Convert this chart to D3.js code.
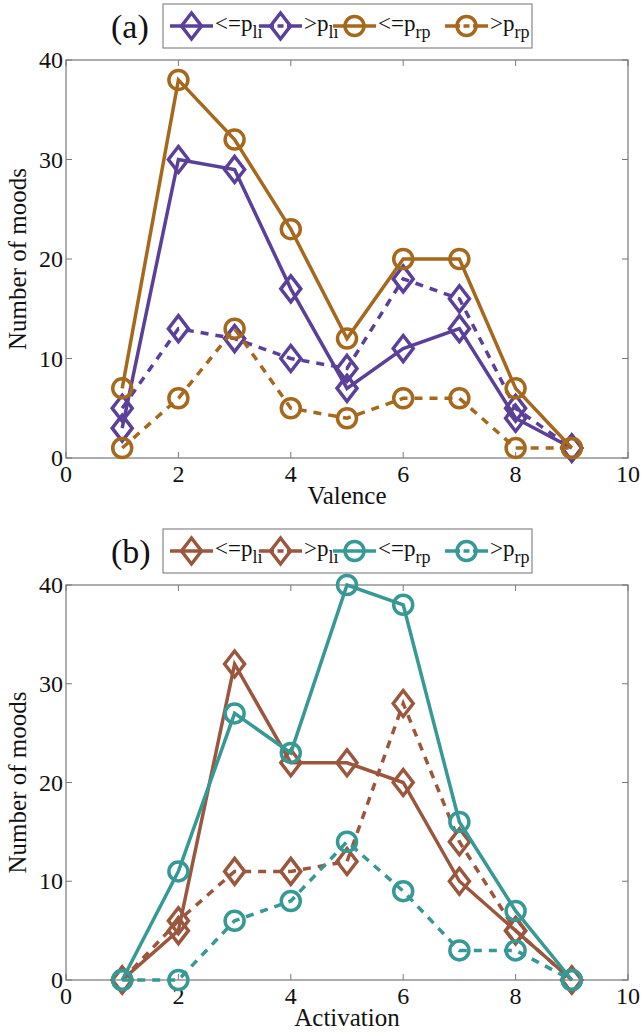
<!DOCTYPE html>
<html><head><meta charset="utf-8">
<script src="https://cdn.jsdelivr.net/npm/d3@7"></script>
<style>body{margin:0;background:#fff}svg{display:block}</style>
</head><body>
<svg id="c" width="644" height="1036"></svg>
<script>
const xTicks = [0,2,4,6,8,10];
const yTicks = [0,10,20,30,40];
const xs = [1,2,3,4,5,6,7,8,9];

// Panel (a): Valence
const valLeLi = [3,30,29,17,7,11,13,4,1];
const valGtLi = [5,13,12,10,9,18,16,5,1];
const valLeRp = [7,38,32,23,12,20,20,7,1];
const valGtRp = [1,6,13,5,4,6,6,1,1];

// Panel (b): Activation
const actLeLi = [0,5,32,22,22,20,10,5,0];
const actGtLi = [0,6,11,11,12,28,14,5,0];
const actLeRp = [0,11,27,23,40,38,16,7,0];
const actGtRp = [0,0,6,8,14,9,3,3,0];

const seriesLabels = [["<=p","li"],[">p","li"],["<=p","rp"],[">p","rp"]];

const svg = d3.select("#c");
const FF = "Liberation Serif";
const SW = 3.5;

function txt(g,size){
  return g.append("text").style("font-family",FF).style("font-size",size+"px").attr("fill","#111");
}

function panel(cfg){
  const x = d3.scaleLinear().domain([0,10]).range([66,628]);
  const y = d3.scaleLinear().domain([0,40]).range([cfg.bottom,cfg.top]);
  const g = svg.append("g");
  g.append("rect").attr("x",x(0)).attr("y",y(40)).attr("width",x(10)-x(0)).attr("height",y(0)-y(40))
    .attr("fill","none").attr("stroke","#777").attr("stroke-width",1.2);
  const tl = 6;
  xTicks.forEach(t=>{
    g.append("line").attr("x1",x(t)).attr("x2",x(t)).attr("y1",y(0)).attr("y2",y(0)-tl).attr("stroke","#777");
    g.append("line").attr("x1",x(t)).attr("x2",x(t)).attr("y1",y(40)).attr("y2",y(40)+tl).attr("stroke","#777");
    txt(g,24).attr("x",x(t)).attr("y",y(0)+24).attr("text-anchor","middle").text(t);
  });
  yTicks.forEach(t=>{
    g.append("line").attr("x1",x(0)).attr("x2",x(0)+tl).attr("y1",y(t)).attr("y2",y(t)).attr("stroke","#777");
    g.append("line").attr("x1",x(10)).attr("x2",x(10)-tl).attr("y1",y(t)).attr("y2",y(t)).attr("stroke","#777");
    txt(g,24).attr("x",x(0)-3).attr("y",y(t)+8).attr("text-anchor","end").text(t);
  });
  txt(g,25).attr("x",x(5)).attr("y",y(0)+46).attr("text-anchor","middle").text(cfg.xlabel);
  txt(g,25).attr("transform",`translate(26,${(y(0)+y(40))/2}) rotate(-90)`).attr("text-anchor","middle")
    .text("Number of moods");

  const line = d3.line().x((d,i)=>x(xs[i])).y(d=>y(d));
  const series = [
    {v:cfg.s[0], c:cfg.c1, dash:null, m:"d"},
    {v:cfg.s[1], c:cfg.c1, dash:"8,7", m:"d"},
    {v:cfg.s[2], c:cfg.c2, dash:null, m:"o"},
    {v:cfg.s[3], c:cfg.c2, dash:"8,7", m:"o"},
  ];
  series.forEach(s=>{
    g.append("path").attr("d",line(s.v)).attr("fill","none").attr("stroke",s.c).attr("stroke-width",SW)
      .attr("stroke-dasharray",s.dash);
    s.v.forEach((d,i)=>marker(g,s.m,x(xs[i]),y(d),s.c));
  });

  const ly = cfg.legTop;
  txt(g,34).attr("x",111).attr("y",ly+34).text(cfg.tag);
  g.append("rect").attr("x",163).attr("y",ly).attr("width",369).attr("height",44)
    .attr("fill","#fff").attr("stroke","#888").attr("stroke-width",1.2);
  const lx = [170,259,333,445];
  series.forEach((s,i)=>{
    const cy = ly+22;
    g.append("line").attr("x1",lx[i]).attr("x2",lx[i]+43).attr("y1",cy).attr("y2",cy)
      .attr("stroke",s.c).attr("stroke-width",SW);
    if(s.dash){
      g.append("line").attr("x1",lx[i]+15).attr("x2",lx[i]+28).attr("y1",cy).attr("y2",cy)
        .attr("stroke","#fff").attr("stroke-width",4.5);
      g.append("line").attr("x1",lx[i]+18.5).attr("x2",lx[i]+24.5).attr("y1",cy).attr("y2",cy)
        .attr("stroke",s.c).attr("stroke-width",SW);
    }
    marker(g,s.m,lx[i]+21.5,cy,s.c);
    const t = txt(g,23).attr("x",lx[i]+45).attr("y",cy+5);
    t.append("tspan").text(seriesLabels[i][0]);
    t.append("tspan").attr("dy",7).style("font-size","18px").text(seriesLabels[i][1]);
  });
}

function marker(g,type,cx,cy,c){
  if(type==="o"){
    g.append("circle").attr("cx",cx).attr("cy",cy).attr("r",9.5).attr("fill","none").attr("stroke",c).attr("stroke-width",SW);
  } else {
    const w=10,h=13;
    g.append("path").attr("d",`M${cx},${cy-h}L${cx+w},${cy}L${cx},${cy+h}L${cx-w},${cy}Z`)
      .attr("fill","none").attr("stroke",c).attr("stroke-width",SW);
  }
}

panel({top:60,bottom:458,legTop:4,tag:"(a)",xlabel:"Valence",
  s:[valLeLi,valGtLi,valLeRp,valGtRp], c1:"#5a409a", c2:"#a6681c"});
panel({top:585,bottom:980,legTop:529,tag:"(b)",xlabel:"Activation",
  s:[actLeLi,actGtLi,actLeRp,actGtRp], c1:"#9a573d", c2:"#379996"});
</script>
</body></html>
